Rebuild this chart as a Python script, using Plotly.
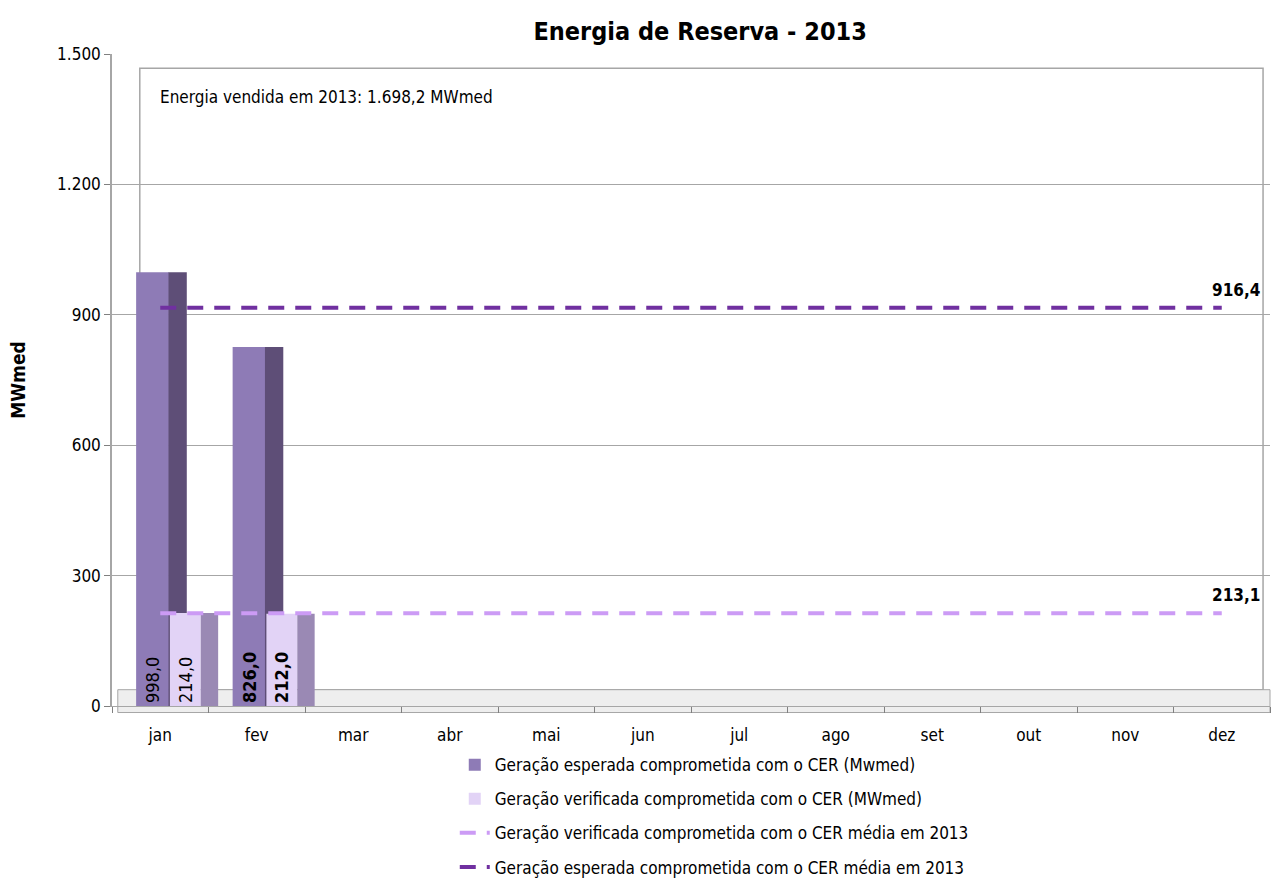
import plotly.graph_objects as go

# Monthly reserve-energy figures (MWmed)
months = ["jan", "fev", "mar", "abr", "mai", "jun", "jul", "ago", "set", "out", "nov", "dez"]
expected = [998.0, 826.0, None, None, None, None, None, None, None, None, None, None]
verified = [214.0, 212.0, None, None, None, None, None, None, None, None, None, None]
expected_avg = 916.4
verified_avg = 213.1
sold_energy = "1.698,2"

y_ticks = [0, 300, 600, 900, 1200, 1500]
y_ticklabels = ["0", "300", "600", "900", "1.200", "1.500"]

FONT = "'DejaVu Sans Condensed', 'Liberation Sans', sans-serif"

# which months get bold value labels
bold_expected = [False, True]
bold_verified = [False, True]


def br(v, bold):
    if v is None:
        return ""
    s = f"{v:.1f}".replace(".", ",")
    return f"<b>{s}</b>" if bold else s


exp_text = [br(v, bold_expected[i] if i < len(bold_expected) else False) for i, v in enumerate(expected)]
ver_text = [br(v, bold_verified[i] if i < len(bold_verified) else False) for i, v in enumerate(verified)]

fig = go.Figure()

# expected generation: front face + shaded side face
fig.add_trace(go.Bar(
    x=months, y=expected, name="Geração esperada comprometida com o CER (Mwmed)",
    offset=-0.25, width=0.34,
    marker=dict(color="#8E7BB6", line=dict(width=0)),
    text=exp_text, textposition="inside", insidetextanchor="start", textangle=-90,
    constraintext="none", textfont=dict(family=FONT, size=18, color="#000000"),
    legendgroup="g1", legendrank=1,
))
fig.add_trace(go.Bar(
    x=months, y=expected, showlegend=False, hoverinfo="skip",
    offset=0.085, width=0.19,
    marker=dict(color="#5E4E77", line=dict(width=0)),
    legendgroup="g1",
))
# verified generation: front face + shaded side face
fig.add_trace(go.Bar(
    x=months, y=verified, name="Geração verificada comprometida com o CER (MWmed)",
    offset=0.10, width=0.32,
    marker=dict(color="#E2D3F6", line=dict(width=0)),
    text=ver_text, textposition="inside", insidetextanchor="start", textangle=-90,
    constraintext="none", textfont=dict(family=FONT, size=18, color="#000000"),
    legendgroup="g2", legendrank=2,
))
fig.add_trace(go.Bar(
    x=months, y=verified, showlegend=False, hoverinfo="skip",
    offset=0.42, width=0.18,
    marker=dict(color="#9A89B4", line=dict(width=0)),
    legendgroup="g2",
))

# annual averages
fig.add_trace(go.Scatter(
    x=months, y=[verified_avg] * len(months), mode="lines",
    name="Geração verificada comprometida com o CER média em 2013",
    line=dict(color="#CC9BF5", width=4, dash="16px,11px"),
    legendgroup="g3", legendrank=3, hoverinfo="skip",
))
fig.add_trace(go.Scatter(
    x=months, y=[expected_avg] * len(months), mode="lines",
    name="Geração esperada comprometida com o CER média em 2013",
    line=dict(color="#7030A0", width=4, dash="16px,11px"),
    legendgroup="g4", legendrank=4, hoverinfo="skip",
))

for val in (expected_avg, verified_avg):
    fig.add_annotation(
        x="dez", y=val, xref="x", yref="y", text="<b>" + f"{val:.1f}".replace(".", ",") + "</b>",
        showarrow=False, xanchor="right", yanchor="bottom", xshift=40, yshift=6,
        font=dict(family=FONT, size=17, color="#000000"),
    )

fig.add_annotation(
    x=0.04, y=0.934, xref="paper", yref="paper", xanchor="left", yanchor="middle",
    text=f"Energia vendida em 2013: {sold_energy} MWmed", showarrow=False,
    font=dict(family=FONT, size=17, color="#000000"),
)

# back wall frame and floor
fig.add_shape(type="rect", xref="paper", yref="paper", x0=0.024, x1=0.994, y0=0.025, y1=0.978,
              line=dict(color="#A6A6A6", width=1.5), fillcolor="rgba(0,0,0,0)", layer="below")
fig.add_shape(type="rect", xref="paper", yref="paper", x0=0.005, x1=1.0, y0=-0.01, y1=0.025,
              line=dict(color="#A6A6A6", width=1), fillcolor="#EEEEEE", layer="below")

fig.update_layout(
    width=1280, height=881,
    margin=dict(l=112, r=10, t=54, b=175, autoexpand=False),
    paper_bgcolor="white", plot_bgcolor="white",
    barmode="overlay",
    font=dict(family=FONT, size=17, color="#000000"),
    title=dict(text="<b>Energia de Reserva - 2013</b>", x=0.547, xanchor="center",
               y=0.965, yanchor="middle", font=dict(family=FONT, size=25)),
    xaxis=dict(categoryorder="array", categoryarray=months, showgrid=False,
               showline=True, linecolor="#A6A6A6", linewidth=1,
               ticks="outside", ticklen=6, tickcolor="#808080", tickson="boundaries",
               ticklabelstandoff=14,
               tickfont=dict(family=FONT, size=17), range=[-0.5, 11.5]),
    yaxis=dict(range=[0, 1500], tickvals=y_ticks, ticktext=y_ticklabels,
               showgrid=True, gridcolor="#A6A6A6", gridwidth=1,
               showline=True, linecolor="#A6A6A6", linewidth=1.5,
               ticks="outside", ticklen=6, tickcolor="#808080",
               tickfont=dict(family=FONT, size=17),
               title=dict(text="<b>MWmed</b>", font=dict(family=FONT, size=19), standoff=26),
               zeroline=False),
    legend=dict(orientation="v", x=0.296, xanchor="left", y=-0.063, yanchor="top",
                font=dict(family=FONT, size=17), tracegroupgap=9, traceorder="grouped",
                bgcolor="rgba(0,0,0,0)"),
    showlegend=True,
)

fig.write_html("out.html")
